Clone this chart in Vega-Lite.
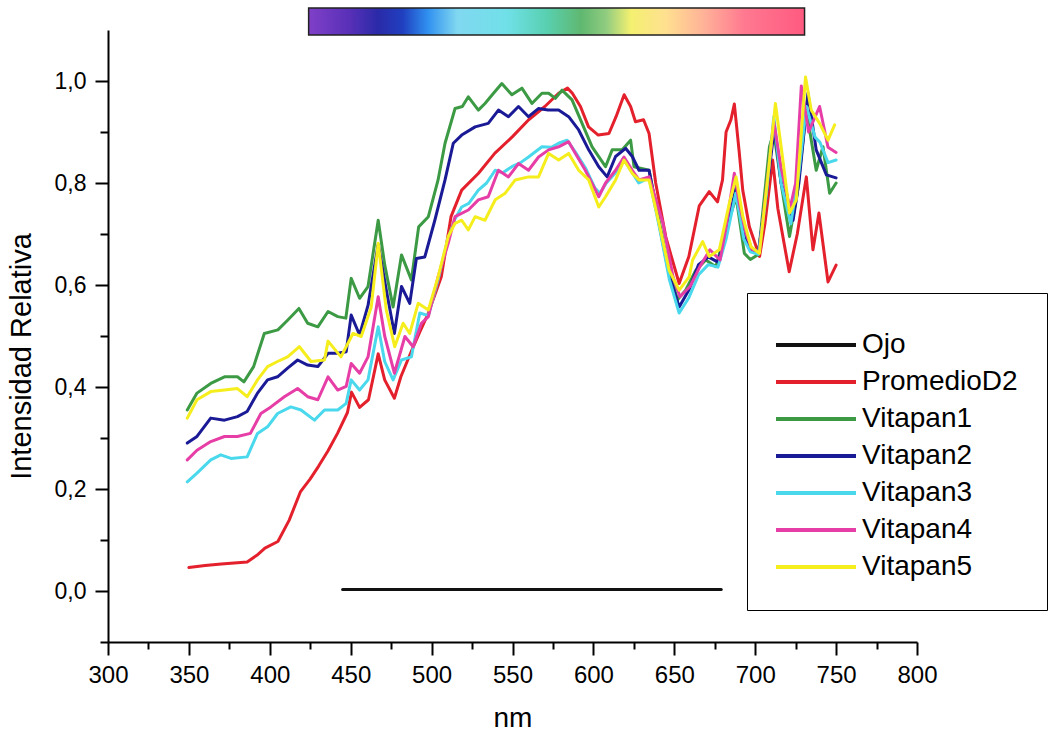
{
  "$schema": "https://vega.github.io/schema/vega-lite/v6.json",
  "autosize": {"type": "none"},
  "width": 809,
  "height": 612,
  "padding": {"left": 108, "top": 30, "right": 138, "bottom": 92},
  "background": "white",
  "config": {"view": {"stroke": null}, "font": "Liberation Sans"},
  "datasets": {
    "bar": [{"a": 424, "b": 730.5, "lo": 1.09, "hi": 1.143}],
    "spec": [
      {"s":"Ojo","x":445,"y":0.003},{"s":"Ojo","x":679,"y":0.003},

      {"s":"PromedioD2","x":350,"y":0.046},{"s":"PromedioD2","x":360,"y":0.05},{"s":"PromedioD2","x":370,"y":0.053},{"s":"PromedioD2","x":386,"y":0.057},{"s":"PromedioD2","x":392,"y":0.07},{"s":"PromedioD2","x":397,"y":0.084},{"s":"PromedioD2","x":405,"y":0.097},{"s":"PromedioD2","x":412,"y":0.139},{"s":"PromedioD2","x":419,"y":0.195},{"s":"PromedioD2","x":425,"y":0.22},{"s":"PromedioD2","x":430,"y":0.244},{"s":"PromedioD2","x":436,"y":0.275},{"s":"PromedioD2","x":442,"y":0.31},{"s":"PromedioD2","x":448,"y":0.35},{"s":"PromedioD2","x":450.5,"y":0.39},{"s":"PromedioD2","x":455.5,"y":0.36},{"s":"PromedioD2","x":461,"y":0.375},{"s":"PromedioD2","x":467,"y":0.465},{"s":"PromedioD2","x":471,"y":0.414},{"s":"PromedioD2","x":477,"y":0.378},{"s":"PromedioD2","x":481,"y":0.42},{"s":"PromedioD2","x":487.5,"y":0.47},{"s":"PromedioD2","x":493,"y":0.51},{"s":"PromedioD2","x":498,"y":0.545},{"s":"PromedioD2","x":506,"y":0.616},{"s":"PromedioD2","x":512,"y":0.734},{"s":"PromedioD2","x":518.6,"y":0.786},{"s":"PromedioD2","x":529,"y":0.819},{"s":"PromedioD2","x":539,"y":0.858},{"s":"PromedioD2","x":550,"y":0.891},{"s":"PromedioD2","x":560,"y":0.924},{"s":"PromedioD2","x":570,"y":0.95},{"s":"PromedioD2","x":578.5,"y":0.976},{"s":"PromedioD2","x":584,"y":0.986},{"s":"PromedioD2","x":587,"y":0.976},{"s":"PromedioD2","x":592,"y":0.95},{"s":"PromedioD2","x":597,"y":0.91},{"s":"PromedioD2","x":603,"y":0.894},{"s":"PromedioD2","x":609.6,"y":0.897},{"s":"PromedioD2","x":614,"y":0.93},{"s":"PromedioD2","x":619,"y":0.973},{"s":"PromedioD2","x":623,"y":0.95},{"s":"PromedioD2","x":626,"y":0.92},{"s":"PromedioD2","x":631,"y":0.924},{"s":"PromedioD2","x":634.4,"y":0.897},{"s":"PromedioD2","x":638.5,"y":0.8},{"s":"PromedioD2","x":644.7,"y":0.695},{"s":"PromedioD2","x":648.8,"y":0.649},{"s":"PromedioD2","x":653,"y":0.603},{"s":"PromedioD2","x":659,"y":0.656},{"s":"PromedioD2","x":665.4,"y":0.755},{"s":"PromedioD2","x":671.6,"y":0.783},{"s":"PromedioD2","x":676.7,"y":0.763},{"s":"PromedioD2","x":679.8,"y":0.806},{"s":"PromedioD2","x":682,"y":0.9},{"s":"PromedioD2","x":685,"y":0.924},{"s":"PromedioD2","x":687.1,"y":0.955},{"s":"PromedioD2","x":690.2,"y":0.858},{"s":"PromedioD2","x":692.3,"y":0.786},{"s":"PromedioD2","x":696.4,"y":0.714},{"s":"PromedioD2","x":702.7,"y":0.656},{"s":"PromedioD2","x":706,"y":0.72},{"s":"PromedioD2","x":710.8,"y":0.845},{"s":"PromedioD2","x":714,"y":0.75},{"s":"PromedioD2","x":721,"y":0.626},{"s":"PromedioD2","x":726,"y":0.7},{"s":"PromedioD2","x":731.6,"y":0.812},{"s":"PromedioD2","x":735.7,"y":0.669},{"s":"PromedioD2","x":739.4,"y":0.741},{"s":"PromedioD2","x":745,"y":0.606},{"s":"PromedioD2","x":750,"y":0.639},

      {"s":"Vitapan1","x":349,"y":0.355},{"s":"Vitapan1","x":355,"y":0.388},{"s":"Vitapan1","x":363.5,"y":0.407},{"s":"Vitapan1","x":372,"y":0.42},{"s":"Vitapan1","x":380,"y":0.42},{"s":"Vitapan1","x":384,"y":0.41},{"s":"Vitapan1","x":390,"y":0.44},{"s":"Vitapan1","x":396.6,"y":0.505},{"s":"Vitapan1","x":405,"y":0.512},{"s":"Vitapan1","x":411,"y":0.531},{"s":"Vitapan1","x":418,"y":0.554},{"s":"Vitapan1","x":423.4,"y":0.525},{"s":"Vitapan1","x":429.7,"y":0.518},{"s":"Vitapan1","x":436,"y":0.548},{"s":"Vitapan1","x":442,"y":0.538},{"s":"Vitapan1","x":447,"y":0.535},{"s":"Vitapan1","x":450.3,"y":0.613},{"s":"Vitapan1","x":455.5,"y":0.574},{"s":"Vitapan1","x":460.7,"y":0.597},{"s":"Vitapan1","x":467,"y":0.727},{"s":"Vitapan1","x":471,"y":0.64},{"s":"Vitapan1","x":476.2,"y":0.557},{"s":"Vitapan1","x":481.4,"y":0.659},{"s":"Vitapan1","x":487.5,"y":0.61},{"s":"Vitapan1","x":492,"y":0.714},{"s":"Vitapan1","x":498,"y":0.734},{"s":"Vitapan1","x":504,"y":0.806},{"s":"Vitapan1","x":508.3,"y":0.878},{"s":"Vitapan1","x":514.5,"y":0.946},{"s":"Vitapan1","x":519,"y":0.95},{"s":"Vitapan1","x":522.7,"y":0.969},{"s":"Vitapan1","x":528.9,"y":0.943},{"s":"Vitapan1","x":533,"y":0.956},{"s":"Vitapan1","x":538,"y":0.975},{"s":"Vitapan1","x":543.4,"y":0.995},{"s":"Vitapan1","x":549.6,"y":0.973},{"s":"Vitapan1","x":555.8,"y":0.986},{"s":"Vitapan1","x":562,"y":0.956},{"s":"Vitapan1","x":568.2,"y":0.976},{"s":"Vitapan1","x":572.3,"y":0.976},{"s":"Vitapan1","x":576.5,"y":0.966},{"s":"Vitapan1","x":580.6,"y":0.982},{"s":"Vitapan1","x":586.8,"y":0.963},{"s":"Vitapan1","x":593,"y":0.917},{"s":"Vitapan1","x":599.2,"y":0.871},{"s":"Vitapan1","x":607.5,"y":0.832},{"s":"Vitapan1","x":611.6,"y":0.865},{"s":"Vitapan1","x":617.8,"y":0.865},{"s":"Vitapan1","x":623,"y":0.884},{"s":"Vitapan1","x":625.1,"y":0.832},{"s":"Vitapan1","x":634.4,"y":0.825},{"s":"Vitapan1","x":640.6,"y":0.727},{"s":"Vitapan1","x":646.8,"y":0.629},{"s":"Vitapan1","x":652,"y":0.571},{"s":"Vitapan1","x":657,"y":0.59},{"s":"Vitapan1","x":663.3,"y":0.629},{"s":"Vitapan1","x":669.5,"y":0.649},{"s":"Vitapan1","x":675.7,"y":0.636},{"s":"Vitapan1","x":682,"y":0.708},{"s":"Vitapan1","x":688.2,"y":0.773},{"s":"Vitapan1","x":693.3,"y":0.662},{"s":"Vitapan1","x":697,"y":0.65},{"s":"Vitapan1","x":702,"y":0.66},{"s":"Vitapan1","x":708.8,"y":0.871},{"s":"Vitapan1","x":711.5,"y":0.9},{"s":"Vitapan1","x":716,"y":0.8},{"s":"Vitapan1","x":721.2,"y":0.695},{"s":"Vitapan1","x":726,"y":0.78},{"s":"Vitapan1","x":731.6,"y":0.943},{"s":"Vitapan1","x":737.7,"y":0.825},{"s":"Vitapan1","x":741.9,"y":0.871},{"s":"Vitapan1","x":746,"y":0.78},{"s":"Vitapan1","x":750,"y":0.8},

      {"s":"Vitapan2","x":349,"y":0.29},{"s":"Vitapan2","x":355,"y":0.303},{"s":"Vitapan2","x":363.5,"y":0.339},{"s":"Vitapan2","x":372,"y":0.335},{"s":"Vitapan2","x":380,"y":0.342},{"s":"Vitapan2","x":386,"y":0.352},{"s":"Vitapan2","x":392.4,"y":0.388},{"s":"Vitapan2","x":398.6,"y":0.414},{"s":"Vitapan2","x":404.8,"y":0.42},{"s":"Vitapan2","x":411,"y":0.437},{"s":"Vitapan2","x":417.2,"y":0.453},{"s":"Vitapan2","x":423.4,"y":0.443},{"s":"Vitapan2","x":429.7,"y":0.44},{"s":"Vitapan2","x":436,"y":0.466},{"s":"Vitapan2","x":442,"y":0.466},{"s":"Vitapan2","x":447.2,"y":0.469},{"s":"Vitapan2","x":450.3,"y":0.541},{"s":"Vitapan2","x":455.5,"y":0.502},{"s":"Vitapan2","x":460.7,"y":0.56},{"s":"Vitapan2","x":467,"y":0.68},{"s":"Vitapan2","x":472,"y":0.59},{"s":"Vitapan2","x":477,"y":0.505},{"s":"Vitapan2","x":481.4,"y":0.597},{"s":"Vitapan2","x":486.5,"y":0.564},{"s":"Vitapan2","x":490.6,"y":0.652},{"s":"Vitapan2","x":495.8,"y":0.655},{"s":"Vitapan2","x":502,"y":0.727},{"s":"Vitapan2","x":508.3,"y":0.806},{"s":"Vitapan2","x":513.4,"y":0.878},{"s":"Vitapan2","x":518.6,"y":0.894},{"s":"Vitapan2","x":526.9,"y":0.91},{"s":"Vitapan2","x":535,"y":0.917},{"s":"Vitapan2","x":541.3,"y":0.943},{"s":"Vitapan2","x":547.5,"y":0.93},{"s":"Vitapan2","x":553.7,"y":0.95},{"s":"Vitapan2","x":559.9,"y":0.93},{"s":"Vitapan2","x":566,"y":0.946},{"s":"Vitapan2","x":572,"y":0.943},{"s":"Vitapan2","x":578.5,"y":0.943},{"s":"Vitapan2","x":584.7,"y":0.93},{"s":"Vitapan2","x":590.9,"y":0.904},{"s":"Vitapan2","x":597.1,"y":0.865},{"s":"Vitapan2","x":603.3,"y":0.832},{"s":"Vitapan2","x":608.5,"y":0.812},{"s":"Vitapan2","x":613.7,"y":0.852},{"s":"Vitapan2","x":619.9,"y":0.868},{"s":"Vitapan2","x":624,"y":0.852},{"s":"Vitapan2","x":628.2,"y":0.825},{"s":"Vitapan2","x":634.4,"y":0.825},{"s":"Vitapan2","x":640.6,"y":0.72},{"s":"Vitapan2","x":646.8,"y":0.62},{"s":"Vitapan2","x":653,"y":0.557},{"s":"Vitapan2","x":659,"y":0.59},{"s":"Vitapan2","x":665,"y":0.64},{"s":"Vitapan2","x":671,"y":0.655},{"s":"Vitapan2","x":677,"y":0.645},{"s":"Vitapan2","x":682,"y":0.7},{"s":"Vitapan2","x":688,"y":0.79},{"s":"Vitapan2","x":693,"y":0.7},{"s":"Vitapan2","x":697,"y":0.67},{"s":"Vitapan2","x":702,"y":0.665},{"s":"Vitapan2","x":707,"y":0.78},{"s":"Vitapan2","x":711.9,"y":0.91},{"s":"Vitapan2","x":716,"y":0.8},{"s":"Vitapan2","x":723.4,"y":0.727},{"s":"Vitapan2","x":727,"y":0.8},{"s":"Vitapan2","x":732.6,"y":0.976},{"s":"Vitapan2","x":737.7,"y":0.865},{"s":"Vitapan2","x":744,"y":0.816},{"s":"Vitapan2","x":750,"y":0.81},

      {"s":"Vitapan3","x":349,"y":0.214},{"s":"Vitapan3","x":355,"y":0.231},{"s":"Vitapan3","x":363.5,"y":0.257},{"s":"Vitapan3","x":369.7,"y":0.267},{"s":"Vitapan3","x":376,"y":0.26},{"s":"Vitapan3","x":386,"y":0.263},{"s":"Vitapan3","x":392.4,"y":0.309},{"s":"Vitapan3","x":398.6,"y":0.322},{"s":"Vitapan3","x":404.8,"y":0.348},{"s":"Vitapan3","x":413,"y":0.361},{"s":"Vitapan3","x":419.3,"y":0.355},{"s":"Vitapan3","x":427.6,"y":0.335},{"s":"Vitapan3","x":433.8,"y":0.355},{"s":"Vitapan3","x":442,"y":0.355},{"s":"Vitapan3","x":447.2,"y":0.368},{"s":"Vitapan3","x":450.3,"y":0.414},{"s":"Vitapan3","x":455.5,"y":0.394},{"s":"Vitapan3","x":460.7,"y":0.414},{"s":"Vitapan3","x":467,"y":0.518},{"s":"Vitapan3","x":471,"y":0.45},{"s":"Vitapan3","x":476.2,"y":0.414},{"s":"Vitapan3","x":481.4,"y":0.453},{"s":"Vitapan3","x":487.5,"y":0.459},{"s":"Vitapan3","x":492.7,"y":0.545},{"s":"Vitapan3","x":498,"y":0.54},{"s":"Vitapan3","x":504,"y":0.61},{"s":"Vitapan3","x":510,"y":0.69},{"s":"Vitapan3","x":514.5,"y":0.73},{"s":"Vitapan3","x":518.6,"y":0.753},{"s":"Vitapan3","x":523,"y":0.76},{"s":"Vitapan3","x":528.9,"y":0.786},{"s":"Vitapan3","x":534,"y":0.8},{"s":"Vitapan3","x":539.3,"y":0.825},{"s":"Vitapan3","x":544,"y":0.82},{"s":"Vitapan3","x":549.6,"y":0.832},{"s":"Vitapan3","x":555,"y":0.84},{"s":"Vitapan3","x":559.9,"y":0.851},{"s":"Vitapan3","x":568.2,"y":0.871},{"s":"Vitapan3","x":574,"y":0.87},{"s":"Vitapan3","x":578.5,"y":0.878},{"s":"Vitapan3","x":583.7,"y":0.884},{"s":"Vitapan3","x":589,"y":0.86},{"s":"Vitapan3","x":595,"y":0.83},{"s":"Vitapan3","x":601,"y":0.79},{"s":"Vitapan3","x":604,"y":0.78},{"s":"Vitapan3","x":608,"y":0.8},{"s":"Vitapan3","x":613.7,"y":0.82},{"s":"Vitapan3","x":619,"y":0.845},{"s":"Vitapan3","x":624,"y":0.82},{"s":"Vitapan3","x":628,"y":0.8},{"s":"Vitapan3","x":634.4,"y":0.81},{"s":"Vitapan3","x":641,"y":0.71},{"s":"Vitapan3","x":647,"y":0.61},{"s":"Vitapan3","x":653,"y":0.545},{"s":"Vitapan3","x":659,"y":0.575},{"s":"Vitapan3","x":665,"y":0.62},{"s":"Vitapan3","x":671,"y":0.64},{"s":"Vitapan3","x":677,"y":0.635},{"s":"Vitapan3","x":682,"y":0.69},{"s":"Vitapan3","x":688,"y":0.78},{"s":"Vitapan3","x":693,"y":0.69},{"s":"Vitapan3","x":697,"y":0.665},{"s":"Vitapan3","x":702,"y":0.66},{"s":"Vitapan3","x":707,"y":0.78},{"s":"Vitapan3","x":711.5,"y":0.93},{"s":"Vitapan3","x":716,"y":0.8},{"s":"Vitapan3","x":722,"y":0.72},{"s":"Vitapan3","x":727,"y":0.82},{"s":"Vitapan3","x":731.6,"y":0.95},{"s":"Vitapan3","x":737,"y":0.89},{"s":"Vitapan3","x":740,"y":0.88},{"s":"Vitapan3","x":745,"y":0.84},{"s":"Vitapan3","x":750,"y":0.845},

      {"s":"Vitapan4","x":349,"y":0.257},{"s":"Vitapan4","x":355,"y":0.276},{"s":"Vitapan4","x":363.5,"y":0.293},{"s":"Vitapan4","x":372,"y":0.303},{"s":"Vitapan4","x":380,"y":0.303},{"s":"Vitapan4","x":388,"y":0.309},{"s":"Vitapan4","x":394.5,"y":0.348},{"s":"Vitapan4","x":400.7,"y":0.361},{"s":"Vitapan4","x":409,"y":0.381},{"s":"Vitapan4","x":417.2,"y":0.397},{"s":"Vitapan4","x":423.4,"y":0.381},{"s":"Vitapan4","x":429.7,"y":0.375},{"s":"Vitapan4","x":436,"y":0.42},{"s":"Vitapan4","x":442,"y":0.394},{"s":"Vitapan4","x":447.2,"y":0.401},{"s":"Vitapan4","x":450.3,"y":0.446},{"s":"Vitapan4","x":455.5,"y":0.427},{"s":"Vitapan4","x":460.7,"y":0.459},{"s":"Vitapan4","x":467,"y":0.577},{"s":"Vitapan4","x":471,"y":0.5},{"s":"Vitapan4","x":477,"y":0.427},{"s":"Vitapan4","x":483.5,"y":0.499},{"s":"Vitapan4","x":488.6,"y":0.479},{"s":"Vitapan4","x":493.7,"y":0.525},{"s":"Vitapan4","x":498,"y":0.538},{"s":"Vitapan4","x":504,"y":0.616},{"s":"Vitapan4","x":510.3,"y":0.682},{"s":"Vitapan4","x":514.5,"y":0.734},{"s":"Vitapan4","x":522.7,"y":0.747},{"s":"Vitapan4","x":528.9,"y":0.767},{"s":"Vitapan4","x":535,"y":0.773},{"s":"Vitapan4","x":541.3,"y":0.825},{"s":"Vitapan4","x":547.5,"y":0.812},{"s":"Vitapan4","x":553.7,"y":0.838},{"s":"Vitapan4","x":559.9,"y":0.825},{"s":"Vitapan4","x":566.1,"y":0.851},{"s":"Vitapan4","x":572.3,"y":0.865},{"s":"Vitapan4","x":578.5,"y":0.871},{"s":"Vitapan4","x":584.7,"y":0.881},{"s":"Vitapan4","x":588.9,"y":0.858},{"s":"Vitapan4","x":595,"y":0.825},{"s":"Vitapan4","x":601.3,"y":0.786},{"s":"Vitapan4","x":603.3,"y":0.773},{"s":"Vitapan4","x":607.5,"y":0.8},{"s":"Vitapan4","x":613.7,"y":0.825},{"s":"Vitapan4","x":618.9,"y":0.851},{"s":"Vitapan4","x":624,"y":0.825},{"s":"Vitapan4","x":628.2,"y":0.806},{"s":"Vitapan4","x":634.4,"y":0.812},{"s":"Vitapan4","x":643,"y":0.721},{"s":"Vitapan4","x":649.2,"y":0.616},{"s":"Vitapan4","x":653.5,"y":0.577},{"s":"Vitapan4","x":659.7,"y":0.597},{"s":"Vitapan4","x":665.8,"y":0.636},{"s":"Vitapan4","x":672,"y":0.669},{"s":"Vitapan4","x":678.3,"y":0.649},{"s":"Vitapan4","x":682,"y":0.714},{"s":"Vitapan4","x":687.1,"y":0.819},{"s":"Vitapan4","x":690.2,"y":0.76},{"s":"Vitapan4","x":694.3,"y":0.701},{"s":"Vitapan4","x":698,"y":0.67},{"s":"Vitapan4","x":702.6,"y":0.665},{"s":"Vitapan4","x":707,"y":0.79},{"s":"Vitapan4","x":711.5,"y":0.92},{"s":"Vitapan4","x":716,"y":0.83},{"s":"Vitapan4","x":721.5,"y":0.75},{"s":"Vitapan4","x":725,"y":0.8},{"s":"Vitapan4","x":728.5,"y":0.99},{"s":"Vitapan4","x":733,"y":0.9},{"s":"Vitapan4","x":739.8,"y":0.95},{"s":"Vitapan4","x":745,"y":0.87},{"s":"Vitapan4","x":750,"y":0.86},

      {"s":"Vitapan5","x":349,"y":0.339},{"s":"Vitapan5","x":355,"y":0.375},{"s":"Vitapan5","x":363.5,"y":0.391},{"s":"Vitapan5","x":372,"y":0.394},{"s":"Vitapan5","x":380,"y":0.397},{"s":"Vitapan5","x":386,"y":0.381},{"s":"Vitapan5","x":392.4,"y":0.414},{"s":"Vitapan5","x":398.6,"y":0.44},{"s":"Vitapan5","x":404.8,"y":0.45},{"s":"Vitapan5","x":411,"y":0.459},{"s":"Vitapan5","x":418.3,"y":0.479},{"s":"Vitapan5","x":425.5,"y":0.45},{"s":"Vitapan5","x":433.8,"y":0.453},{"s":"Vitapan5","x":436,"y":0.49},{"s":"Vitapan5","x":444,"y":0.459},{"s":"Vitapan5","x":451.4,"y":0.505},{"s":"Vitapan5","x":456.5,"y":0.499},{"s":"Vitapan5","x":462.7,"y":0.557},{"s":"Vitapan5","x":467,"y":0.682},{"s":"Vitapan5","x":472,"y":0.551},{"s":"Vitapan5","x":477.2,"y":0.479},{"s":"Vitapan5","x":482.4,"y":0.525},{"s":"Vitapan5","x":486.5,"y":0.505},{"s":"Vitapan5","x":491.7,"y":0.564},{"s":"Vitapan5","x":498,"y":0.551},{"s":"Vitapan5","x":504,"y":0.616},{"s":"Vitapan5","x":510.3,"y":0.695},{"s":"Vitapan5","x":514.5,"y":0.721},{"s":"Vitapan5","x":518.6,"y":0.727},{"s":"Vitapan5","x":522.7,"y":0.708},{"s":"Vitapan5","x":526.9,"y":0.734},{"s":"Vitapan5","x":533,"y":0.727},{"s":"Vitapan5","x":539.3,"y":0.767},{"s":"Vitapan5","x":545.5,"y":0.78},{"s":"Vitapan5","x":551.7,"y":0.806},{"s":"Vitapan5","x":559.9,"y":0.812},{"s":"Vitapan5","x":566.1,"y":0.812},{"s":"Vitapan5","x":572.3,"y":0.858},{"s":"Vitapan5","x":578.5,"y":0.845},{"s":"Vitapan5","x":584.7,"y":0.858},{"s":"Vitapan5","x":590.9,"y":0.825},{"s":"Vitapan5","x":597.1,"y":0.806},{"s":"Vitapan5","x":603.3,"y":0.753},{"s":"Vitapan5","x":607.5,"y":0.773},{"s":"Vitapan5","x":613.7,"y":0.806},{"s":"Vitapan5","x":618.9,"y":0.845},{"s":"Vitapan5","x":624,"y":0.819},{"s":"Vitapan5","x":628.2,"y":0.806},{"s":"Vitapan5","x":634.4,"y":0.806},{"s":"Vitapan5","x":640.6,"y":0.721},{"s":"Vitapan5","x":646.8,"y":0.629},{"s":"Vitapan5","x":653,"y":0.59},{"s":"Vitapan5","x":659.2,"y":0.616},{"s":"Vitapan5","x":661.3,"y":0.649},{"s":"Vitapan5","x":667.5,"y":0.685},{"s":"Vitapan5","x":671.6,"y":0.656},{"s":"Vitapan5","x":677.8,"y":0.669},{"s":"Vitapan5","x":684,"y":0.76},{"s":"Vitapan5","x":688.2,"y":0.812},{"s":"Vitapan5","x":692.4,"y":0.734},{"s":"Vitapan5","x":697.4,"y":0.675},{"s":"Vitapan5","x":702.6,"y":0.662},{"s":"Vitapan5","x":707.8,"y":0.812},{"s":"Vitapan5","x":712.5,"y":0.956},{"s":"Vitapan5","x":717.1,"y":0.845},{"s":"Vitapan5","x":721.2,"y":0.741},{"s":"Vitapan5","x":725.4,"y":0.767},{"s":"Vitapan5","x":731.1,"y":1.008},{"s":"Vitapan5","x":734.6,"y":0.943},{"s":"Vitapan5","x":739.8,"y":0.917},{"s":"Vitapan5","x":745,"y":0.884},{"s":"Vitapan5","x":749.1,"y":0.914}
    ]
  },
  "layer": [
    {
      "data": {"name": "spec"},
      "mark": {"type": "line", "strokeWidth": 3, "strokeJoin": "round", "strokeCap": "round"},
      "encoding": {
        "x": {
          "field": "x", "type": "quantitative",
          "scale": {"domain": [300, 800], "nice": false, "zero": false},
          "axis": {
            "title": "nm", "titleFontSize": 28, "titleFontWeight": "normal", "titleColor": "black", "titlePadding": 17,
            "values": [300,325,350,375,400,425,450,475,500,525,550,575,600,625,650,675,700,725,750,775,800],
            "labelExpr": "datum.value % 50 == 0 ? datum.label : ''",
            "labelFontSize": 24, "labelColor": "black", "labelPadding": 8, "labelFlush": false, "labelOverlap": false,
            "tickSize": {"condition": {"test": "datum.value % 50 != 0", "value": 7}, "value": 13},
            "tickColor": "black", "tickWidth": 2, "domainColor": "black", "domainWidth": 2, "grid": false
          }
        },
        "y": {
          "field": "y", "type": "quantitative",
          "scale": {"domain": [-0.1, 1.1], "nice": false, "zero": false},
          "axis": {
            "title": "Intensidad Relativa", "titleFontSize": 29, "titleFontWeight": "normal", "titleColor": "black", "titlePadding": 18, "titleY": 326,
            "values": [-0.1,0,0.1,0.2,0.3,0.4,0.5,0.6,0.7,0.8,0.9,1.0],
            "labelExpr": "(round(datum.value*10) % 2 == 0 && datum.value >= 0) ? replace(format(datum.value, '.1f'), '.', ',') : ''",
            "labelFontSize": 23, "labelColor": "black", "labelPadding": 9, "labelFlush": false, "labelOverlap": false,
            "tickSize": {"condition": {"test": "round(datum.value*10) % 2 != 0", "value": 8}, "value": 13},
            "tickColor": "black", "tickWidth": 2, "domainColor": "black", "domainWidth": 2, "grid": false
          }
        },
        "color": {
          "field": "s", "type": "nominal",
          "scale": {
            "domain": ["Ojo","PromedioD2","Vitapan1","Vitapan2","Vitapan3","Vitapan4","Vitapan5"],
            "range": ["#111111","#e3202c","#3c9a44","#1a1a96","#4ad8ec","#e63ea6","#f5ee1c"]
          },
          "legend": {
            "orient": "none", "legendX": 639, "legendY": 263, "title": null,
            "padding": 29, "strokeColor": "black", "fillColor": "white",
            "labelFontSize": 28, "labelColor": "black", "labelLimit": 0,
            "symbolType": "M-1.095,0H2.714", "symbolSize": 1764, "symbolStrokeWidth": 4,
            "labelOffset": 40, "rowPadding": -9.3
          }
        },
        "strokeWidth": {"condition": {"test": "datum.s == 'Ojo'", "value": 4.5}, "value": 3},
        "order": {"field": "x", "type": "quantitative"}
      }
    },
    {
      "data": {"name": "bar"},
      "mark": {
        "type": "rect", "stroke": "#222222", "strokeWidth": 1.5,
        "fill": {
          "gradient": "linear", "x1": 0, "x2": 1, "y1": 0, "y2": 0,
          "stops": [
            {"offset": 0.0, "color": "#8040c8"},
            {"offset": 0.08, "color": "#5a30b8"},
            {"offset": 0.14, "color": "#2a2aa8"},
            {"offset": 0.19, "color": "#2040c0"},
            {"offset": 0.24, "color": "#3090f0"},
            {"offset": 0.3, "color": "#80d8f0"},
            {"offset": 0.4, "color": "#70e0e8"},
            {"offset": 0.48, "color": "#58d0b0"},
            {"offset": 0.55, "color": "#60b870"},
            {"offset": 0.6, "color": "#90cc80"},
            {"offset": 0.65, "color": "#f4f070"},
            {"offset": 0.72, "color": "#ffe090"},
            {"offset": 0.8, "color": "#ffb098"},
            {"offset": 0.88, "color": "#ff7890"},
            {"offset": 1.0, "color": "#ff5a80"}
          ]
        }
      },
      "encoding": {
        "x": {"field": "a", "type": "quantitative"},
        "x2": {"field": "b"},
        "y": {"field": "lo", "type": "quantitative"},
        "y2": {"field": "hi"}
      }
    }
  ]
}
